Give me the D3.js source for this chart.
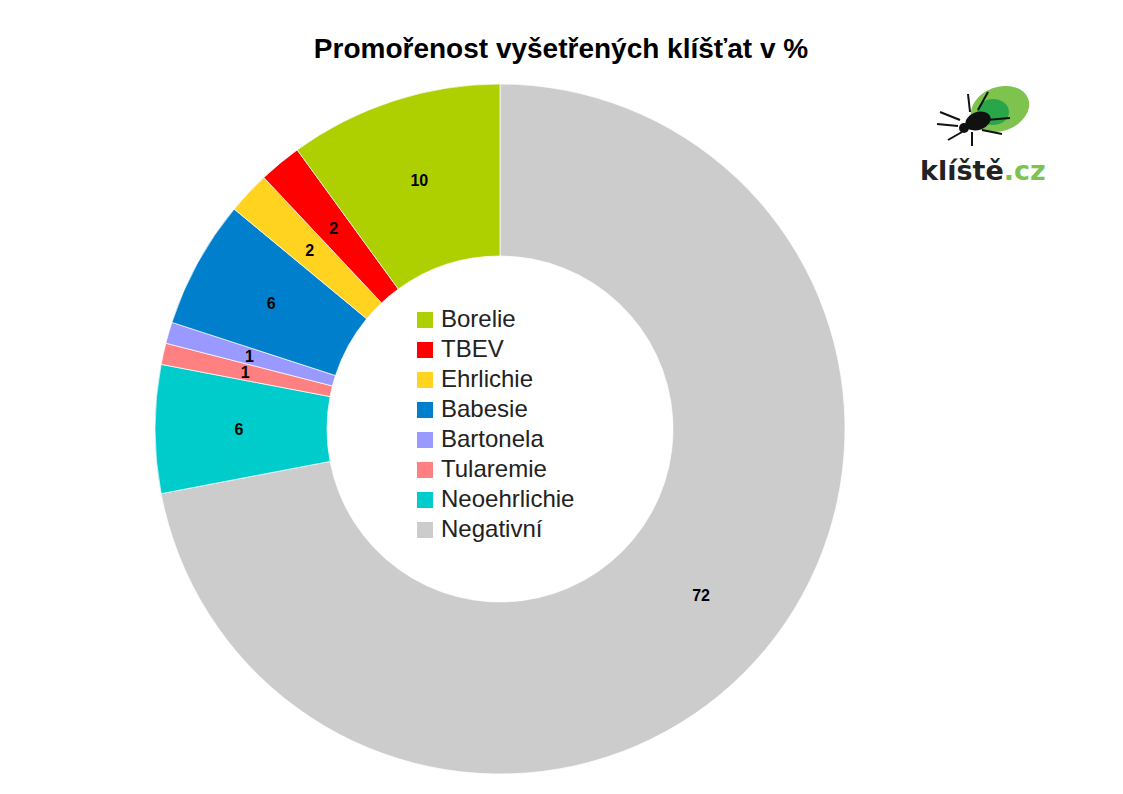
<!DOCTYPE html>
<html><head><meta charset="utf-8">
<script src="https://cdn.jsdelivr.net/npm/d3@7"></script>
<style>body{margin:0;background:#fff}</style>
</head><body><svg id="c" width="1123" height="794"></svg>
<script>
const categories = ["Negativní", "Neoehrlichie", "Tularemie", "Bartonela", "Babesie", "Ehrlichie", "TBEV", "Borelie"];
const values = [72, 6, 1, 1, 6, 2, 2, 10];
const colors = ["#cccccc", "#00cccc", "#ff8080", "#9999ff", "#0080cc", "#ffd320", "#ff0000", "#aecf00"];
const legendOrder = ["Borelie", "TBEV", "Ehrlichie", "Babesie", "Bartonela", "Tularemie", "Neoehrlichie", "Negativní"];

const svg = d3.select("#c");
const cx = 500, cy = 429, R = 345, r = 173;
const color = d3.scaleOrdinal().domain(categories).range(colors);

svg.append("text").attr("x", 561).attr("y", 58).attr("text-anchor", "middle")
  .attr("font-family", "Liberation Sans, Arial").attr("font-weight", "bold").attr("font-size", 28)
  .text("Promořenost vyšetřených klíšťat v %");

const data = categories.map((c, i) => ({c, v: values[i]}));
const pie = d3.pie().value(d => d.v).sort(null);
const arc = d3.arc().innerRadius(r).outerRadius(R);
const g = svg.append("g").attr("transform", `translate(${cx},${cy})`);
const arcs = pie(data);
g.selectAll("path").data(arcs).enter().append("path")
  .attr("d", arc).attr("fill", d => color(d.data.c))
  .attr("stroke", "#fff").attr("stroke-width", 0.7);

const lab = d3.arc().innerRadius((R + r) / 2 + 2).outerRadius((R + r) / 2 + 2);
g.selectAll("text.v").data(arcs).enter().append("text")
  .attr("transform", d => `translate(${lab.centroid(d)})`)
  .attr("text-anchor", "middle").attr("dy", "0.35em")
  .attr("font-family", "Liberation Sans, Arial").attr("font-weight", "bold").attr("font-size", 16)
  .text(d => d.data.v);

const leg = svg.append("g").attr("transform", "translate(417,306)");
const ly = d3.scaleBand().domain(legendOrder).range([0, 240]);
legendOrder.forEach(c => {
  leg.append("rect").attr("x", 0).attr("y", ly(c) + 6).attr("width", 16).attr("height", 16).attr("fill", color(c));
  leg.append("text").attr("x", 24).attr("y", ly(c) + 21)
    .attr("font-family", "Liberation Sans, Arial").attr("font-size", 24).attr("fill", "#222").text(c);
});

// logo
const lg = svg.append("g");
lg.append("ellipse").attr("cx", 1000).attr("cy", 109).attr("rx", 30).attr("ry", 22)
  .attr("transform", "rotate(-20 1000 109)").attr("fill", "#7dc34d");
lg.append("ellipse").attr("cx", 993).attr("cy", 112).attr("rx", 16).attr("ry", 13).attr("fill", "#29a64a");
lg.append("ellipse").attr("cx", 978).attr("cy", 121).attr("rx", 13).attr("ry", 9)
  .attr("transform", "rotate(-20 978 121)").attr("fill", "#111");
lg.append("circle").attr("cx", 964).attr("cy", 128).attr("r", 5).attr("fill", "#111");
[[960,120,940,112],[958,126,937,124],[962,132,948,140],[970,112,968,94],[978,110,988,92],[982,130,1002,134],[972,132,972,146],[986,120,1010,118]]
  .forEach(l => lg.append("line").attr("x1", l[0]).attr("y1", l[1]).attr("x2", l[2]).attr("y2", l[3])
  .attr("stroke", "#111").attr("stroke-width", 2));
const t = lg.append("text").attr("x", 920).attr("y", 180).attr("font-family", "DejaVu Sans, sans-serif")
  .attr("font-weight", "bold").attr("font-size", 27);
t.append("tspan").attr("fill", "#222").text("klíště");
t.append("tspan").attr("fill", "#7dc34d").text(".cz");
</script></body></html>
